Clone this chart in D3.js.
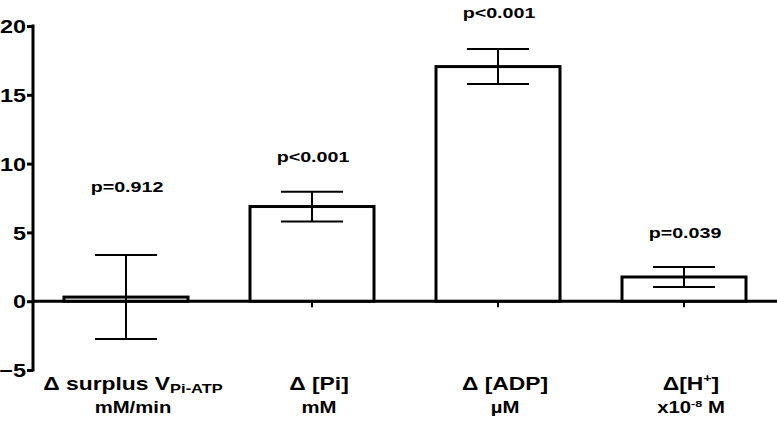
<!DOCTYPE html>
<html>
<head>
<meta charset="utf-8">
<script src="https://cdn.jsdelivr.net/npm/d3@7"></script>
<style>
  body { margin: 0; background: #fff; }
  text { font-family: "Liberation Sans", Arial, sans-serif; font-weight: bold; fill: #000; }
</style>
</head>
<body>
<div id="chart"></div>
<script>
// data
var categories = ["surplus", "Pi", "ADP", "H"];
var means = [0.3, 6.88, 17.05, 1.76];
var sems = [3.05, 1.08, 1.27, 0.73];
var pLabels = ["p=0.912", "p<0.001", "p<0.001", "p=0.039"];
var pLabelAt = [7.9, 10.1, 20.6, 4.57];   // value units, baseline of p text
var yTicks = [-5, 0, 5, 10, 15, 20];

var labelLine1 = [
  [{t: "Δ surplus V"}, {t: "Pi-ATP", sub: true}],
  [{t: "Δ [Pi]"}],
  [{t: "Δ [ADP]"}],
  [{t: "Δ[H"}, {t: "+", sup: true}, {t: "]"}]
];
var labelLine2 = [
  [{t: "mM/min"}],
  [{t: "mM"}],
  [{t: "µM"}],
  [{t: "x10"}, {t: "-8", sup: true}, {t: " M"}]
];

var svgWidth = 777;
var svgHeight = 422;
var stretch = 1.27;  // text in the figure is stretched sideways

var svg = d3.select("#chart")
  .append("svg")
  .attr("width", svgWidth)
  .attr("height", svgHeight);

var x = d3.scaleBand()
  .domain(categories)
  .range([33, 777])
  .paddingInner(1 / 3)
  .paddingOuter(1 / 6);

var y = d3.scaleLinear()
  .domain([-5, 20])
  .range([370, 26]);

// baseline at zero
svg.append("line")
  .attr("x1", 33)
  .attr("x2", 777)
  .attr("y1", y(0))
  .attr("y2", y(0))
  .attr("stroke", "#000")
  .attr("stroke-width", 3);

// small ticks under baseline at each category
svg.selectAll(".xtick").data(categories).enter()
  .append("line")
  .attr("x1", d => x(d) + x.bandwidth() / 2)
  .attr("x2", d => x(d) + x.bandwidth() / 2)
  .attr("y1", y(0))
  .attr("y2", y(0) + 6)
  .attr("stroke", "#000")
  .attr("stroke-width", 2);

// y axis
var leftAxis = d3.axisLeft(y).tickValues(yTicks).tickSize(6).tickSizeOuter(0).tickPadding(0);
var yAxis = svg.append("g")
  .attr("transform", "translate(33,0)")
  .call(leftAxis);
yAxis.select(".domain").attr("stroke-width", 3).attr("d", "M0," + (y(-5) + 1.5) + "V" + (y(20) - 1.5));
yAxis.selectAll(".tick line").attr("stroke-width", 3);
yAxis.selectAll(".tick text")
  .attr("x", -7 / stretch)
  .attr("dy", "0.36em")
  .attr("transform", "scale(" + stretch + ",1)")
  .style("font-size", "18.5px")
  .style("font-family", "'Liberation Sans', Arial, sans-serif")
  .style("font-weight", "bold");

// bars
svg.selectAll(".bar").data(categories).enter()
  .append("rect")
  .attr("x", d => x(d))
  .attr("width", x.bandwidth())
  .attr("y", (d, i) => y(Math.max(0, means[i])))
  .attr("height", (d, i) => Math.abs(y(means[i]) - y(0)))
  .attr("fill", "#fff")
  .attr("stroke", "#000")
  .attr("stroke-width", 3);

// error bars
var capHalf = x.bandwidth() / 4;
var err = svg.selectAll(".err").data(categories).enter().append("g");
err.append("line")
  .attr("x1", d => x(d) + x.bandwidth() / 2)
  .attr("x2", d => x(d) + x.bandwidth() / 2)
  .attr("y1", (d, i) => y(means[i] + sems[i]))
  .attr("y2", (d, i) => y(means[i] - sems[i]));
err.append("line")
  .attr("x1", d => x(d) + x.bandwidth() / 2 - capHalf)
  .attr("x2", d => x(d) + x.bandwidth() / 2 + capHalf)
  .attr("y1", (d, i) => y(means[i] + sems[i]))
  .attr("y2", (d, i) => y(means[i] + sems[i]));
err.append("line")
  .attr("x1", d => x(d) + x.bandwidth() / 2 - capHalf)
  .attr("x2", d => x(d) + x.bandwidth() / 2 + capHalf)
  .attr("y1", (d, i) => y(means[i] - sems[i]))
  .attr("y2", (d, i) => y(means[i] - sems[i]));
err.selectAll("line").attr("stroke", "#000").attr("stroke-width", 2);

// p value labels
svg.selectAll(".plab").data(categories).enter()
  .append("text")
  .attr("transform", (d, i) => "translate(" + (x(d) + x.bandwidth() / 2 + 1) + "," + y(pLabelAt[i]) + ") scale(" + stretch + ",1)")
  .attr("text-anchor", "middle")
  .style("font-size", "15.5px")
  .text((d, i) => pLabels[i]);

// category labels, two lines with sub/superscripts
function richText(g, parts, size) {
  var t = g.append("text")
    .attr("text-anchor", "middle")
    .style("font-size", size + "px");
  var shift = 0;  // current offset from baseline
  parts.forEach(function(p) {
    var want = p.sub ? size * 0.22 : p.sup ? -size * 0.4 : 0;
    var s = t.append("tspan").text(p.t);
    if (want !== shift) s.attr("dy", want - shift);
    shift = want;
    if (p.sub) s.style("font-size", (size * 0.72) + "px");
    if (p.sup) s.style("font-size", (size * 0.62) + "px");
  });
  return t;
}

categories.forEach(function(c, i) {
  var cx = x(c) + x.bandwidth() / 2 + 7;
  var g1 = svg.append("g")
    .attr("transform", "translate(" + cx + ",389.5) scale(" + stretch + ",1)");
  richText(g1, labelLine1[i], 18);
  var g2 = svg.append("g")
    .attr("transform", "translate(" + cx + ",413) scale(" + stretch + ",1)");
  richText(g2, labelLine2[i], 16);
});
</script>
</body>
</html>
